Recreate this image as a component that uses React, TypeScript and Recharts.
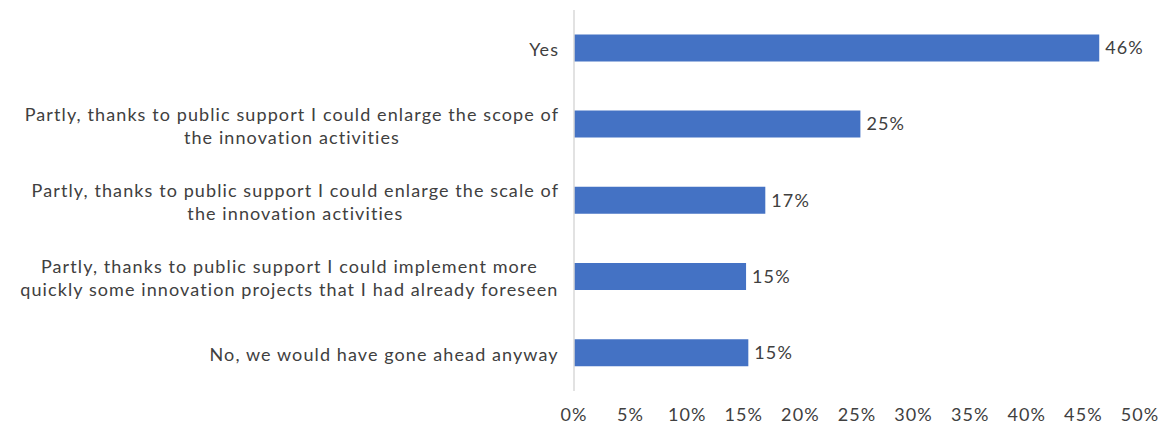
import React from 'react';
import { BarChart, Bar, XAxis, YAxis, LabelList } from 'recharts';

const categories: string[] = [
  'Yes',
  'Partly, thanks to public support I could enlarge the scope of\nthe innovation activities',
  'Partly, thanks to public support I could enlarge the scale of\nthe innovation activities',
  'Partly, thanks to public support I could implement more\nquickly some innovation projects that I had already foreseen',
  'No, we would have gone ahead anyway',
];
const values: number[] = [46.4, 25.3, 16.9, 15.2, 15.4];
const valueLabels: string[] = ['46%', '25%', '17%', '15%', '15%'];
const xTicks: number[] = [0, 5, 10, 15, 20, 25, 30, 35, 40, 45, 50];

const data = categories.map((c, i) => ({ name: c, value: values[i], label: valueLabels[i] }));

const FONT = 'Lato, "Open Sans", sans-serif';
const FS = 18;
const LS = 1.1;
const TEXT = '#404040';

let ctx: CanvasRenderingContext2D | null = null;
function measure(t: string): number {
  if (!ctx) {
    const c = document.createElement('canvas');
    ctx = c.getContext('2d');
  }
  if (!ctx) return t.length * 9;
  ctx.font = `${FS}px Lato`;
  return ctx.measureText(t).width + (t.length - 1) * LS;
}

const YTick = (props: any) => {
  const { x, y, payload } = props;
  const lines: string[] = String(payload.value).split('\n');
  const w = Math.max(...lines.map(measure));
  const cx = x - w / 2;
  const lh = 23;
  const start = y - ((lines.length - 1) * lh) / 2 + 1;
  return (
    <g>
      {lines.map((l, i) => (
        <text key={i} x={cx + LS / 2} y={start + i * lh} textAnchor="middle" dominantBaseline="central"
          fontFamily={FONT} fontSize={FS} fill={TEXT} letterSpacing={LS}>{l}</text>
      ))}
    </g>
  );
};

export default function App() {
  return (
    <div style={{ position: 'absolute', left: 0, top: 0, background: '#fff' }}>
      <BarChart width={1170} height={432} data={data} layout="vertical"
        margin={{ top: 10, right: 30, bottom: 11, left: 0 }} barCategoryGap="32%">
        <XAxis type="number" domain={[0, 50]} ticks={xTicks} axisLine={false} tickLine={false}
          tickFormatter={(v: number) => `${v}%`} tickMargin={11} height={30} interval={0}
          tick={{ fontFamily: FONT, fontSize: FS, fill: TEXT, letterSpacing: LS }} />
        <YAxis type="category" dataKey="name" width={574} axisLine={{ stroke: '#d9d9d9', strokeWidth: 1.5 }}
          tickLine={false} tickSize={0} tickMargin={16} tick={<YTick />} interval={0} />
        <Bar dataKey="value" fill="#4472C4" isAnimationActive={false}>
          <LabelList dataKey="label" position="right" offset={6}
            style={{ fontFamily: FONT, fontSize: FS, fill: TEXT, letterSpacing: LS }} />
        </Bar>
      </BarChart>
    </div>
  );
}
